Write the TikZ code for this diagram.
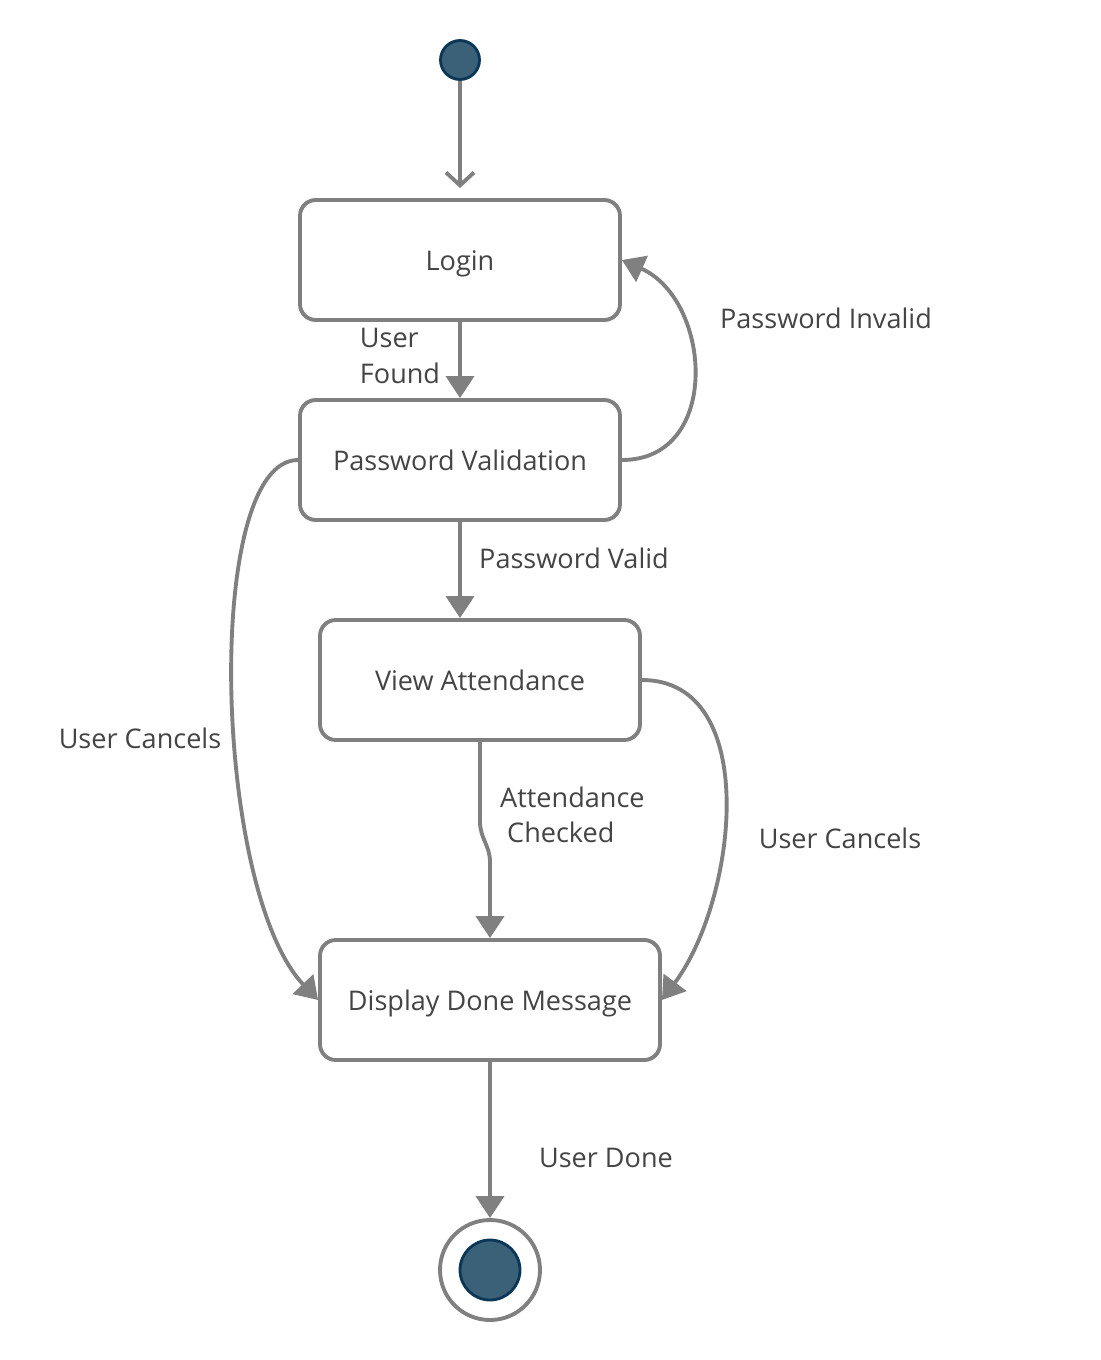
\documentclass[tikz,border=0pt]{standalone}
\usepackage{fontspec}
\setmainfont{Open Sans}
\usepackage{tikz}
\usetikzlibrary{arrows.meta, calc}

\definecolor{linegray}{HTML}{808080}
\definecolor{textgray}{HTML}{444444}
\definecolor{dotfill}{HTML}{3B6179}
\definecolor{dotdraw}{HTML}{0C3655}

\begin{document}
\begin{tikzpicture}[
  state/.style={rectangle, draw=linegray, line width=2.2pt, rounded corners=9pt,
                minimum width=6.4cm, minimum height=2.4cm, align=center,
                text height=1.2em, text depth=0pt,
                font=\fontsize{15.4}{20}\selectfont, text=textgray},
  dot/.style={circle, fill=dotfill, draw=dotdraw, line width=1.6pt, inner sep=0pt},
  lbl/.style={font=\fontsize{15.4}{20}\selectfont, text=textgray},
  arrow/.style={-{Triangle[width=0.56cm, length=0.44cm]}, draw=linegray, line width=2.2pt},
  oarrow/.style={-{Straight Barb[width=0.56cm, length=0.26cm]}, draw=linegray, line width=2.2pt}
]
\useasboundingbox (0,0) rectangle (22,-27.2);

%% ---- STATES ----
\node[dot, minimum size=0.78cm] at (9.2,-1.2) (start) {};
\node[state] at (9.2,-5.2)   (login) {Login};
\node[state] at (9.2,-9.2)   (pv)    {Password Validation};
\node[state] at (9.6,-13.6)  (va)    {View Attendance};
\node[state, minimum width=6.8cm] at (9.8,-20) (ddm) {Display Done Message};
\node[circle, draw=linegray, line width=2.2pt, minimum size=2cm] at (9.8,-25.4) (final) {};
\node[dot, minimum size=1.2cm] at (final.center) (finaldot) {};

%% ---- TRANSITIONS ----
\draw[oarrow] (start.south) -- ([yshift=0.2cm]login.north);
\draw[arrow] (login) -- (pv);
\draw[arrow] (pv.east) .. controls +(2,0) and +(1.8,-0.8) .. (login.east);
\draw[arrow] (pv.west) .. controls +(-1.9,0) and +(-2.1,2.2) .. (ddm.west);
\draw[arrow] (pv.south) -- (pv.south |- va.north);
\draw[arrow] (va.south) -- ++(0,-1.6) to[out=-90, in=90] ++(0.2,-0.8) -- (ddm.north);
\draw[arrow] (va.east) .. controls +(2.4,0) and +(1.5,2) .. (ddm.east);
\draw[arrow] (ddm.south) -- (final.north);

%% ---- Labels ----
\node[lbl, align=left] at (8,-7.12) (lfound) {User\\Found};
\node[lbl] at (16.52,-6.36)  (linvalid) {Password Invalid};
\node[lbl] at (2.8,-14.76)   (lcancel1) {User Cancels};
\node[lbl] at (11.48,-11.16) (lvalid)   {Password Valid};
\node[lbl, align=left, anchor=west] at (9.88,-16.3) (lchecked) {Attendance\\\hspace{0.14cm}Checked};
\node[lbl] at (16.8,-16.76)  (lcancel2) {User Cancels};
\node[lbl] at (12.12,-23.16) (ldone)    {User Done};
\end{tikzpicture}
\end{document}
